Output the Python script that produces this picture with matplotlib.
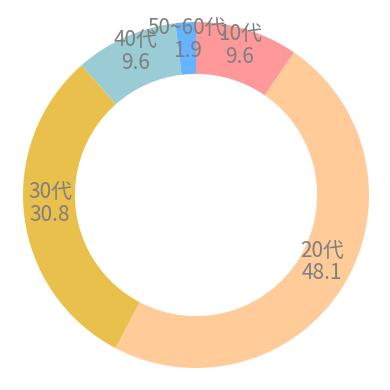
import matplotlib
matplotlib.use("Agg")
import matplotlib.pyplot as plt
from matplotlib.transforms import offset_copy

plt.rcParams['font.family'] = ['Liberation Sans Narrow', 'Noto Sans CJK JP', 'DejaVu Sans']

categories = ["10代", "20代", "30代", "40代", "50~60代"]
values = [9.6, 48.1, 30.8, 9.6, 1.9]
colors = ["#FF9999", "#FFCC99", "#E9C04B", "#99CCD4", "#66B3FF"]

fig = plt.figure(figsize=(3.9, 3.9), dpi=100)
ax = fig.add_axes([0, 0, 1, 1])
labels = [f"{c}\n{v}" for c, v in zip(categories, values)]
wedges, texts = ax.pie(values, colors=colors, startangle=90, counterclock=False,
                       labels=labels, labeldistance=0.85,
                       wedgeprops=dict(width=0.3, edgecolor='none'),
                       textprops=dict(fontsize=15, color='#7f7f7f',
                                      linespacing=1.05))
tr = offset_copy(ax.transData, fig=fig, x=0, y=9, units='dots')
for t in texts:
    t.set_ha('center')
    t.set_va('center')
    t.set_transform(tr)
r = 173.0
ax.set_xlim(-196 / r, (390 - 196) / r)
ax.set_ylim(-(390 - 195) / r, 195 / r)
ax.set_aspect('equal')
ax.axis('off')
fig.savefig("out.png", dpi=100)
